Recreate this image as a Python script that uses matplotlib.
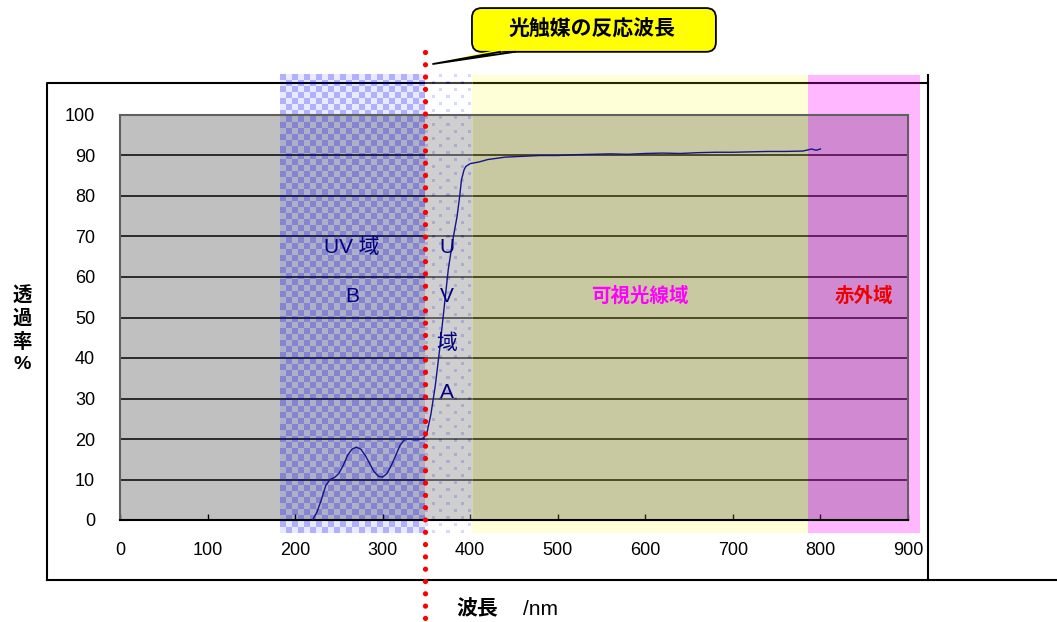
import numpy as np
import matplotlib
matplotlib.use('Agg')
import matplotlib.pyplot as plt
from matplotlib.patches import Rectangle, FancyBboxPatch, Polygon

plt.rcParams['font.family'] = ['Liberation Sans', 'Noto Sans CJK JP', 'DejaVu Sans']

# ---- data ----
wavelength = [220, 225, 230, 235, 240, 245, 250, 255, 260, 265, 270, 275, 280, 285,
              290, 295, 300, 305, 310, 315, 320, 325, 330, 335, 340, 345, 350, 355,
              360, 365, 370, 375, 380, 385, 388, 390, 393, 395, 400, 410, 420, 440,
              460, 480, 500, 520, 540, 560, 580, 600, 620, 640, 660, 680, 700, 720,
              740, 760, 780, 790, 795, 800]
transmittance = [0, 2, 5, 8.5, 10, 10.5, 11.5, 13.5, 16, 17.5, 18, 17.5, 16, 14,
                 12, 10.8, 10.6, 11.5, 13.5, 16, 18.5, 19.8, 20, 19.8, 19.8, 20, 21, 26,
                 33, 42, 52, 62, 69, 75, 80, 84, 86.5, 87.3, 88, 88.4, 89, 89.6,
                 89.8, 90, 90, 90.2, 90.3, 90.4, 90.3, 90.5, 90.6, 90.5, 90.7, 90.8,
                 90.8, 90.9, 91, 91, 91.1, 91.6, 91.3, 91.6]
x_ticks = list(range(0, 1000, 100))
y_ticks = list(range(0, 110, 10))

# region boundaries (nm) : UV-B | UV-A | visible | infrared
band_edges = [183, 348, 402, 786, 914]
band_y = [-3.2, 109.9]
photocat_nm = 348

fig = plt.figure(figsize=(10.57, 6.22), dpi=100)
ax = fig.add_axes([120/1057, 102/622, 788/1057, 405/622])
ax.set_facecolor('#C0C0C0')

ax.plot(wavelength, transmittance, color='#14148c', lw=1.0, zorder=3)

ax.set_xlim(0, 900)
ax.set_ylim(0, 100)
ax.set_xticks(x_ticks)
ax.set_yticks(y_ticks)
ax.tick_params(axis='x', direction='in', length=4, width=1, pad=16, labelsize=13)
ax.tick_params(axis='y', length=0, pad=18, labelsize=13)
ax.grid(axis='y', color='#111111', lw=1.2)
ax.set_axisbelow('line')
for s in ['top', 'right', 'left']:
    ax.spines[s].set_color('#606060')
    ax.spines[s].set_linewidth(1.5)
ax.spines['bottom'].set_color('black')
ax.spines['bottom'].set_linewidth(1.5)

# outer chart frame
ax.plot([-83.4, -83.4, 922.8], [-14.8, 107.9, 107.9], color='black', lw=1.5,
        clip_on=False, zorder=2.4)
ax.plot([922.8, 922.8], [109.9, -14.8], color='black', lw=1.5, clip_on=False, zorder=2.4)
ax.plot([-83.4, 1075], [-14.8, -14.8], color='black', lw=1.5, clip_on=False, zorder=2.4)

# UV-B checker overlay
nh, nw = 76, 24
ii, jj = np.indices((nh, nw))
chk = np.zeros((nh, nw, 4))
chk[..., 2] = 1.0
chk[..., 3] = np.where((ii + jj) % 2 == 0, 0.31, 0.09)
ax.imshow(chk, extent=[band_edges[0], band_edges[1], band_y[0], band_y[1]],
          aspect='auto', interpolation='nearest', clip_on=False, zorder=2.5)

# UV-A dotted overlay
dh, dw = 458, 47
yy, xx = np.indices((dh, dw))
dots = np.zeros((dh, dw, 4))
dots[..., :3] = 1.0
dots[..., 3] = 0.25
row = yy % 14
col = xx % 14
on = ((row < 3) & (col < 3)) | ((row >= 7) & (row < 10) & (col >= 7) & (col < 10))
dots[on, 0] = 0.5
dots[on, 1] = 0.5
dots[on, 2] = 1.0
dots[on, 3] = 0.3
ax.imshow(dots, extent=[band_edges[1], band_edges[2], band_y[0], band_y[1]],
          aspect='auto', interpolation='nearest', clip_on=False, zorder=2.5)

# visible & infrared overlays
ax.add_patch(Rectangle((band_edges[2], band_y[0]), band_edges[3]-band_edges[2],
                       band_y[1]-band_y[0], fc=(1, 1, 0, 0.157), ec='none',
                       clip_on=False, zorder=2.5))
ax.add_patch(Rectangle((band_edges[3], band_y[0]), band_edges[4]-band_edges[3],
                       band_y[1]-band_y[0], fc=(1, 0, 1, 0.28), ec='none',
                       clip_on=False, zorder=2.5))
ax.set_xlim(0, 900)
ax.set_ylim(0, 100)

# red dotted line: photocatalyst wavelength
ax.plot([photocat_nm, photocat_nm], [115.5, -25.2], color='#FF0000', lw=3.8,
        linestyle=(0, (0.001, 2.33)), dash_capstyle='round', clip_on=False, zorder=4)

# region labels
navy = '#000080'
ax.text(265, 67.4, 'UV 域', color=navy, fontsize=15, ha='center', va='center', zorder=5)
ax.text(265, 55.3, 'B', color=navy, fontsize=15, ha='center', va='center', zorder=5)
for yv, ch in zip([67.4, 55.3, 43.7, 31.6], ['U', 'V', '域', 'A']):
    ax.text(373.5, yv, ch, color=navy, fontsize=15, ha='center', va='center', zorder=5)
ax.text(594, 55.3, '可視光線域', color='#FF00FF', fontsize=14, fontweight='bold',
        ha='center', va='center', zorder=5)
ax.text(850, 55.3, '赤外域', color='#EE0000', fontsize=14, fontweight='bold',
        ha='center', va='center', zorder=5)

# axis labels
ax.text(-112, 47, '透\n過\n率\n%', fontsize=14, fontweight='bold', ha='center',
        va='center', linespacing=1.3, clip_on=False)
ax.text(408, -22, '波長', fontsize=15, fontweight='bold', ha='center', va='center',
        clip_on=False)
ax.text(480, -22, '/nm', fontsize=15, ha='center', va='center', clip_on=False)

# callout
box = FancyBboxPatch((402, 115.6), 278.6, 10.8,
                     boxstyle='round,pad=0,rounding_size=11', mutation_aspect=0.216,
                     fc='#FFFF00', ec='black', lw=1.3, clip_on=False, zorder=6)
ax.add_patch(box)
ax.add_patch(Polygon([(434.0, 116.3), (451.1, 116.3), (357.5, 112.6)], closed=True,
                     fc='#FFFF00', ec='none', clip_on=False, zorder=6.5))
ax.plot([434.0, 357.5, 451.1], [115.6, 112.6, 115.6], color='black', lw=1.3,
        clip_on=False, zorder=6.6)
ax.text(539, 121, '光触媒の反応波長', fontsize=15, fontweight='bold', ha='center',
        va='center', zorder=7, clip_on=False)

fig.savefig('out.png', dpi=100)
